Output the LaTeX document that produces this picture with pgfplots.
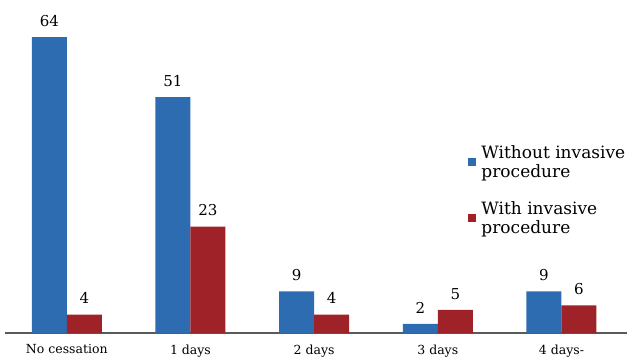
\documentclass[border=0pt]{standalone}
\usepackage{pgfplots}
\pgfplotsset{compat=1.18}
\usepackage{fontspec}
\setmainfont{DejaVu Serif}
\definecolor{barblue}{RGB}{46,108,178}
\definecolor{barred}{RGB}{158,34,40}
\definecolor{baseline}{RGB}{90,90,90}

\begin{document}
\begin{tikzpicture}[x=1pt,y=1pt]
\path[use as bounding box] (0,0) rectangle (629,360);
\begin{axis}[
  at={(5pt,27pt)}, anchor=south west,
  scale only axis, width=622pt, height=333pt,
  ybar=0pt, bar width=35pt,
  ymin=0, ymax=72, xmin=-0.5, xmax=4.53,
  hide y axis,
  axis x line*=bottom,
  x axis line style={-, draw=baseline, line width=1.3pt},
  xtick=data, major tick length=0pt,
  xticklabels={No cessation, 1 days, 2 days, 3 days, 4 days-},
  xticklabel style={font=\fontsize{12.5}{14}\selectfont, yshift=-8pt},
  /pgf/number format/assume math mode=true,
  nodes near coords,
  every node near coord/.append style={font=\fontsize{15}{17}\selectfont, text=black, yshift=7pt},
  legend style={at={(0.74,0.575)}, anchor=north west, draw=none, fill=none,
    font=\fontsize{17}{19}\selectfont, row sep=18pt,
    cells={anchor=west, align=left}},
  legend image code/.code={\fill[#1] (0pt,-4pt) rectangle (8pt,4pt);},
  /tikz/every odd column/.append style={column sep=3pt},
]
\addplot[fill=barblue, draw=none] coordinates {(0,64) (1,51) (2,9) (3,2) (4,9)};
\addplot[fill=barred, draw=none] coordinates {(0,4) (1,23) (2,4) (3,5) (4,6)};
\addlegendentry{Without invasive\\procedure}
\addlegendentry{With invasive\\procedure}
\end{axis}
\end{tikzpicture}
\end{document}
